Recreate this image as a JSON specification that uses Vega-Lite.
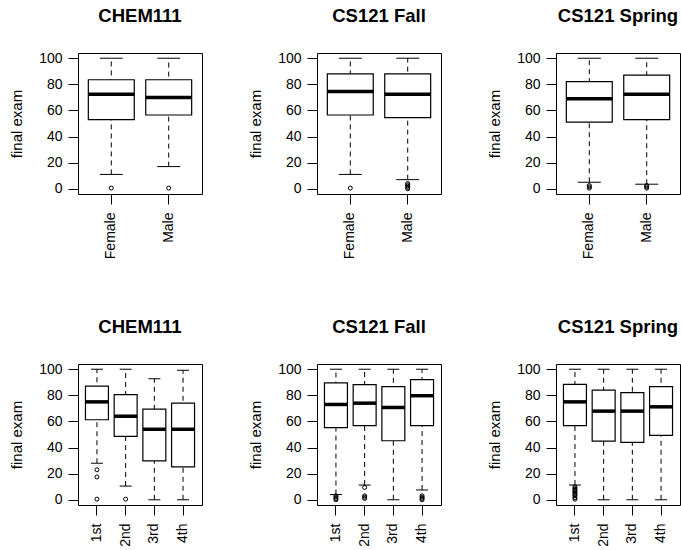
{
  "$schema": "https://vega.github.io/schema/vega-lite/v6.json",
  "background": "white",
  "padding": {"left": 9, "top": 6, "right": 2, "bottom": 2},
  "datasets": {
    "box": [
      {"course": "CHEM111", "split": "gender", "group": "Female", "lo": 11, "q1": 53, "med": 72.5, "q3": 83.5, "hi": 100},
      {"course": "CHEM111", "split": "gender", "group": "Male", "lo": 17, "q1": 56.5, "med": 70, "q3": 83.5, "hi": 100},
      {"course": "CS121 Fall", "split": "gender", "group": "Female", "lo": 11, "q1": 56.5, "med": 74.5, "q3": 88, "hi": 100},
      {"course": "CS121 Fall", "split": "gender", "group": "Male", "lo": 7, "q1": 54.5, "med": 72.5, "q3": 88, "hi": 100},
      {"course": "CS121 Spring", "split": "gender", "group": "Female", "lo": 5, "q1": 51, "med": 69, "q3": 82, "hi": 100},
      {"course": "CS121 Spring", "split": "gender", "group": "Male", "lo": 3.5, "q1": 53, "med": 72.5, "q3": 87, "hi": 100},
      {"course": "CHEM111", "split": "year", "group": "1st", "lo": 28, "q1": 61.3, "med": 75, "q3": 87, "hi": 100},
      {"course": "CHEM111", "split": "year", "group": "2nd", "lo": 10.5, "q1": 48.5, "med": 64, "q3": 80.5, "hi": 100},
      {"course": "CHEM111", "split": "year", "group": "3rd", "lo": 0, "q1": 29.8, "med": 54, "q3": 69.5, "hi": 92.7},
      {"course": "CHEM111", "split": "year", "group": "4th", "lo": 0, "q1": 25.2, "med": 54, "q3": 74, "hi": 99.2},
      {"course": "CS121 Fall", "split": "year", "group": "1st", "lo": 4, "q1": 55.3, "med": 73, "q3": 89.5, "hi": 100},
      {"course": "CS121 Fall", "split": "year", "group": "2nd", "lo": 11.3, "q1": 56.8, "med": 74, "q3": 88.2, "hi": 100},
      {"course": "CS121 Fall", "split": "year", "group": "3rd", "lo": 0, "q1": 45.2, "med": 70.7, "q3": 86.6, "hi": 100},
      {"course": "CS121 Fall", "split": "year", "group": "4th", "lo": 7.5, "q1": 56.8, "med": 79.7, "q3": 92, "hi": 100},
      {"course": "CS121 Spring", "split": "year", "group": "1st", "lo": 11.3, "q1": 56.8, "med": 75, "q3": 88.4, "hi": 100},
      {"course": "CS121 Spring", "split": "year", "group": "2nd", "lo": 0, "q1": 45, "med": 67.9, "q3": 84, "hi": 100},
      {"course": "CS121 Spring", "split": "year", "group": "3rd", "lo": 0, "q1": 44, "med": 67.9, "q3": 82, "hi": 100},
      {"course": "CS121 Spring", "split": "year", "group": "4th", "lo": 0, "q1": 49.4, "med": 71.2, "q3": 86.6, "hi": 100}
    ],
    "outliers": [
      {"course": "CHEM111", "split": "gender", "group": "Female", "out": 0.5},
      {"course": "CHEM111", "split": "gender", "group": "Male", "out": 0.5},
      {"course": "CS121 Fall", "split": "gender", "group": "Female", "out": 0.5},
      {"course": "CS121 Fall", "split": "gender", "group": "Male", "out": 0},
      {"course": "CS121 Fall", "split": "gender", "group": "Male", "out": 1},
      {"course": "CS121 Fall", "split": "gender", "group": "Male", "out": 2},
      {"course": "CS121 Fall", "split": "gender", "group": "Male", "out": 3},
      {"course": "CS121 Fall", "split": "gender", "group": "Male", "out": 4},
      {"course": "CS121 Spring", "split": "gender", "group": "Female", "out": 0.5},
      {"course": "CS121 Spring", "split": "gender", "group": "Female", "out": 1.5},
      {"course": "CS121 Spring", "split": "gender", "group": "Female", "out": 2.5},
      {"course": "CS121 Spring", "split": "gender", "group": "Male", "out": 0.5},
      {"course": "CS121 Spring", "split": "gender", "group": "Male", "out": 1.5},
      {"course": "CS121 Spring", "split": "gender", "group": "Male", "out": 2.5},
      {"course": "CHEM111", "split": "year", "group": "1st", "out": 23},
      {"course": "CHEM111", "split": "year", "group": "1st", "out": 17.5},
      {"course": "CHEM111", "split": "year", "group": "1st", "out": 0.5},
      {"course": "CHEM111", "split": "year", "group": "2nd", "out": 0.5},
      {"course": "CS121 Fall", "split": "year", "group": "1st", "out": 0},
      {"course": "CS121 Fall", "split": "year", "group": "1st", "out": 1},
      {"course": "CS121 Fall", "split": "year", "group": "1st", "out": 2},
      {"course": "CS121 Fall", "split": "year", "group": "1st", "out": 3},
      {"course": "CS121 Fall", "split": "year", "group": "2nd", "out": 9.5},
      {"course": "CS121 Fall", "split": "year", "group": "2nd", "out": 3},
      {"course": "CS121 Fall", "split": "year", "group": "2nd", "out": 2},
      {"course": "CS121 Fall", "split": "year", "group": "2nd", "out": 1},
      {"course": "CS121 Fall", "split": "year", "group": "4th", "out": 0},
      {"course": "CS121 Fall", "split": "year", "group": "4th", "out": 1},
      {"course": "CS121 Fall", "split": "year", "group": "4th", "out": 2},
      {"course": "CS121 Fall", "split": "year", "group": "4th", "out": 3},
      {"course": "CS121 Spring", "split": "year", "group": "1st", "out": 0.5},
      {"course": "CS121 Spring", "split": "year", "group": "1st", "out": 1.5},
      {"course": "CS121 Spring", "split": "year", "group": "1st", "out": 3},
      {"course": "CS121 Spring", "split": "year", "group": "1st", "out": 4},
      {"course": "CS121 Spring", "split": "year", "group": "1st", "out": 5},
      {"course": "CS121 Spring", "split": "year", "group": "1st", "out": 6},
      {"course": "CS121 Spring", "split": "year", "group": "1st", "out": 7},
      {"course": "CS121 Spring", "split": "year", "group": "1st", "out": 8},
      {"course": "CS121 Spring", "split": "year", "group": "1st", "out": 9},
      {"course": "CS121 Spring", "split": "year", "group": "1st", "out": 10}
    ]
  },
  "vconcat": [
    {
      "hconcat": [
        {
          "title": "CHEM111", "width": 124, "height": 141,
          "layer": [
            {"data": {"name": "box"}, "transform": [{"filter": "datum.course === 'CHEM111' && datum.split === 'gender'"}],
             "mark": {"type": "rule", "strokeDash": [5, 4], "color": "#000"},
             "encoding": {"x": {"field": "group", "type": "nominal", "sort": ["Female", "Male"], "scale": {"paddingInner": 0.2, "paddingOuter": 0.18}, "axis": {"title": null}}, "y": {"field": "lo", "type": "quantitative", "scale": {"domain": [-4, 104], "nice": false, "zero": false}, "axis": {"title": "final exam", "values": [0, 20, 40, 60, 80, 100]}}, "y2": {"field": "hi"}}},
            {"data": {"name": "box"}, "transform": [{"filter": "datum.course === 'CHEM111' && datum.split === 'gender'"}],
             "mark": {"type": "bar", "fill": "#fff", "stroke": "#000", "strokeWidth": 1.2},
             "encoding": {"x": {"field": "group", "type": "nominal", "sort": ["Female", "Male"]}, "y": {"field": "q1", "type": "quantitative"}, "y2": {"field": "q3"}}},
            {"data": {"name": "box"}, "transform": [{"filter": "datum.course === 'CHEM111' && datum.split === 'gender'"}],
             "mark": {"type": "tick", "color": "#000", "size": 46, "thickness": 3.5, "opacity": 1},
             "encoding": {"x": {"field": "group", "type": "nominal", "sort": ["Female", "Male"]}, "y": {"field": "med", "type": "quantitative"}}},
            {"data": {"name": "box"}, "transform": [{"filter": "datum.course === 'CHEM111' && datum.split === 'gender'"}],
             "mark": {"type": "tick", "color": "#000", "size": 23, "thickness": 1, "opacity": 1},
             "encoding": {"x": {"field": "group", "type": "nominal", "sort": ["Female", "Male"]}, "y": {"field": "lo", "type": "quantitative"}}},
            {"data": {"name": "box"}, "transform": [{"filter": "datum.course === 'CHEM111' && datum.split === 'gender'"}],
             "mark": {"type": "tick", "color": "#000", "size": 23, "thickness": 1, "opacity": 1},
             "encoding": {"x": {"field": "group", "type": "nominal", "sort": ["Female", "Male"]}, "y": {"field": "hi", "type": "quantitative"}}},
            {"data": {"name": "outliers"}, "transform": [{"filter": "datum.course === 'CHEM111' && datum.split === 'gender'"}],
             "mark": {"type": "point", "shape": "circle", "filled": false, "color": "#000", "size": 16, "strokeWidth": 1, "opacity": 1},
             "encoding": {"x": {"field": "group", "type": "nominal", "sort": ["Female", "Male"]}, "y": {"field": "out", "type": "quantitative"}}}
          ]
        },
        {
          "title": "CS121 Fall", "width": 124, "height": 141,
          "layer": [
            {"data": {"name": "box"}, "transform": [{"filter": "datum.course === 'CS121 Fall' && datum.split === 'gender'"}],
             "mark": {"type": "rule", "strokeDash": [5, 4], "color": "#000"},
             "encoding": {"x": {"field": "group", "type": "nominal", "sort": ["Female", "Male"], "scale": {"paddingInner": 0.2, "paddingOuter": 0.18}, "axis": {"title": null}}, "y": {"field": "lo", "type": "quantitative", "scale": {"domain": [-4, 104], "nice": false, "zero": false}, "axis": {"title": "final exam", "values": [0, 20, 40, 60, 80, 100]}}, "y2": {"field": "hi"}}},
            {"data": {"name": "box"}, "transform": [{"filter": "datum.course === 'CS121 Fall' && datum.split === 'gender'"}],
             "mark": {"type": "bar", "fill": "#fff", "stroke": "#000", "strokeWidth": 1.2},
             "encoding": {"x": {"field": "group", "type": "nominal", "sort": ["Female", "Male"]}, "y": {"field": "q1", "type": "quantitative"}, "y2": {"field": "q3"}}},
            {"data": {"name": "box"}, "transform": [{"filter": "datum.course === 'CS121 Fall' && datum.split === 'gender'"}],
             "mark": {"type": "tick", "color": "#000", "size": 46, "thickness": 3.5, "opacity": 1},
             "encoding": {"x": {"field": "group", "type": "nominal", "sort": ["Female", "Male"]}, "y": {"field": "med", "type": "quantitative"}}},
            {"data": {"name": "box"}, "transform": [{"filter": "datum.course === 'CS121 Fall' && datum.split === 'gender'"}],
             "mark": {"type": "tick", "color": "#000", "size": 23, "thickness": 1, "opacity": 1},
             "encoding": {"x": {"field": "group", "type": "nominal", "sort": ["Female", "Male"]}, "y": {"field": "lo", "type": "quantitative"}}},
            {"data": {"name": "box"}, "transform": [{"filter": "datum.course === 'CS121 Fall' && datum.split === 'gender'"}],
             "mark": {"type": "tick", "color": "#000", "size": 23, "thickness": 1, "opacity": 1},
             "encoding": {"x": {"field": "group", "type": "nominal", "sort": ["Female", "Male"]}, "y": {"field": "hi", "type": "quantitative"}}},
            {"data": {"name": "outliers"}, "transform": [{"filter": "datum.course === 'CS121 Fall' && datum.split === 'gender'"}],
             "mark": {"type": "point", "shape": "circle", "filled": false, "color": "#000", "size": 16, "strokeWidth": 1, "opacity": 1},
             "encoding": {"x": {"field": "group", "type": "nominal", "sort": ["Female", "Male"]}, "y": {"field": "out", "type": "quantitative"}}}
          ]
        },
        {
          "title": "CS121 Spring", "width": 124, "height": 141,
          "layer": [
            {"data": {"name": "box"}, "transform": [{"filter": "datum.course === 'CS121 Spring' && datum.split === 'gender'"}],
             "mark": {"type": "rule", "strokeDash": [5, 4], "color": "#000"},
             "encoding": {"x": {"field": "group", "type": "nominal", "sort": ["Female", "Male"], "scale": {"paddingInner": 0.2, "paddingOuter": 0.18}, "axis": {"title": null}}, "y": {"field": "lo", "type": "quantitative", "scale": {"domain": [-4, 104], "nice": false, "zero": false}, "axis": {"title": "final exam", "values": [0, 20, 40, 60, 80, 100]}}, "y2": {"field": "hi"}}},
            {"data": {"name": "box"}, "transform": [{"filter": "datum.course === 'CS121 Spring' && datum.split === 'gender'"}],
             "mark": {"type": "bar", "fill": "#fff", "stroke": "#000", "strokeWidth": 1.2},
             "encoding": {"x": {"field": "group", "type": "nominal", "sort": ["Female", "Male"]}, "y": {"field": "q1", "type": "quantitative"}, "y2": {"field": "q3"}}},
            {"data": {"name": "box"}, "transform": [{"filter": "datum.course === 'CS121 Spring' && datum.split === 'gender'"}],
             "mark": {"type": "tick", "color": "#000", "size": 46, "thickness": 3.5, "opacity": 1},
             "encoding": {"x": {"field": "group", "type": "nominal", "sort": ["Female", "Male"]}, "y": {"field": "med", "type": "quantitative"}}},
            {"data": {"name": "box"}, "transform": [{"filter": "datum.course === 'CS121 Spring' && datum.split === 'gender'"}],
             "mark": {"type": "tick", "color": "#000", "size": 23, "thickness": 1, "opacity": 1},
             "encoding": {"x": {"field": "group", "type": "nominal", "sort": ["Female", "Male"]}, "y": {"field": "lo", "type": "quantitative"}}},
            {"data": {"name": "box"}, "transform": [{"filter": "datum.course === 'CS121 Spring' && datum.split === 'gender'"}],
             "mark": {"type": "tick", "color": "#000", "size": 23, "thickness": 1, "opacity": 1},
             "encoding": {"x": {"field": "group", "type": "nominal", "sort": ["Female", "Male"]}, "y": {"field": "hi", "type": "quantitative"}}},
            {"data": {"name": "outliers"}, "transform": [{"filter": "datum.course === 'CS121 Spring' && datum.split === 'gender'"}],
             "mark": {"type": "point", "shape": "circle", "filled": false, "color": "#000", "size": 16, "strokeWidth": 1, "opacity": 1},
             "encoding": {"x": {"field": "group", "type": "nominal", "sort": ["Female", "Male"]}, "y": {"field": "out", "type": "quantitative"}}}
          ]
        }
      ]
    },
    {
      "hconcat": [
        {
          "title": "CHEM111", "width": 124, "height": 141,
          "layer": [
            {"data": {"name": "box"}, "transform": [{"filter": "datum.course === 'CHEM111' && datum.split === 'year'"}],
             "mark": {"type": "rule", "strokeDash": [5, 4], "color": "#000"},
             "encoding": {"x": {"field": "group", "type": "nominal", "sort": ["1st", "2nd", "3rd", "4th"], "scale": {"paddingInner": 0.2, "paddingOuter": 0.26}, "axis": {"title": null}}, "y": {"field": "lo", "type": "quantitative", "scale": {"domain": [-4, 104], "nice": false, "zero": false}, "axis": {"title": "final exam", "values": [0, 20, 40, 60, 80, 100]}}, "y2": {"field": "hi"}}},
            {"data": {"name": "box"}, "transform": [{"filter": "datum.course === 'CHEM111' && datum.split === 'year'"}],
             "mark": {"type": "bar", "fill": "#fff", "stroke": "#000", "strokeWidth": 1.2},
             "encoding": {"x": {"field": "group", "type": "nominal", "sort": ["1st", "2nd", "3rd", "4th"]}, "y": {"field": "q1", "type": "quantitative"}, "y2": {"field": "q3"}}},
            {"data": {"name": "box"}, "transform": [{"filter": "datum.course === 'CHEM111' && datum.split === 'year'"}],
             "mark": {"type": "tick", "color": "#000", "size": 23, "thickness": 3.5, "opacity": 1},
             "encoding": {"x": {"field": "group", "type": "nominal", "sort": ["1st", "2nd", "3rd", "4th"]}, "y": {"field": "med", "type": "quantitative"}}},
            {"data": {"name": "box"}, "transform": [{"filter": "datum.course === 'CHEM111' && datum.split === 'year'"}],
             "mark": {"type": "tick", "color": "#000", "size": 12, "thickness": 1, "opacity": 1},
             "encoding": {"x": {"field": "group", "type": "nominal", "sort": ["1st", "2nd", "3rd", "4th"]}, "y": {"field": "lo", "type": "quantitative"}}},
            {"data": {"name": "box"}, "transform": [{"filter": "datum.course === 'CHEM111' && datum.split === 'year'"}],
             "mark": {"type": "tick", "color": "#000", "size": 12, "thickness": 1, "opacity": 1},
             "encoding": {"x": {"field": "group", "type": "nominal", "sort": ["1st", "2nd", "3rd", "4th"]}, "y": {"field": "hi", "type": "quantitative"}}},
            {"data": {"name": "outliers"}, "transform": [{"filter": "datum.course === 'CHEM111' && datum.split === 'year'"}],
             "mark": {"type": "point", "shape": "circle", "filled": false, "color": "#000", "size": 16, "strokeWidth": 1, "opacity": 1},
             "encoding": {"x": {"field": "group", "type": "nominal", "sort": ["1st", "2nd", "3rd", "4th"]}, "y": {"field": "out", "type": "quantitative"}}}
          ]
        },
        {
          "title": "CS121 Fall", "width": 124, "height": 141,
          "layer": [
            {"data": {"name": "box"}, "transform": [{"filter": "datum.course === 'CS121 Fall' && datum.split === 'year'"}],
             "mark": {"type": "rule", "strokeDash": [5, 4], "color": "#000"},
             "encoding": {"x": {"field": "group", "type": "nominal", "sort": ["1st", "2nd", "3rd", "4th"], "scale": {"paddingInner": 0.2, "paddingOuter": 0.26}, "axis": {"title": null}}, "y": {"field": "lo", "type": "quantitative", "scale": {"domain": [-4, 104], "nice": false, "zero": false}, "axis": {"title": "final exam", "values": [0, 20, 40, 60, 80, 100]}}, "y2": {"field": "hi"}}},
            {"data": {"name": "box"}, "transform": [{"filter": "datum.course === 'CS121 Fall' && datum.split === 'year'"}],
             "mark": {"type": "bar", "fill": "#fff", "stroke": "#000", "strokeWidth": 1.2},
             "encoding": {"x": {"field": "group", "type": "nominal", "sort": ["1st", "2nd", "3rd", "4th"]}, "y": {"field": "q1", "type": "quantitative"}, "y2": {"field": "q3"}}},
            {"data": {"name": "box"}, "transform": [{"filter": "datum.course === 'CS121 Fall' && datum.split === 'year'"}],
             "mark": {"type": "tick", "color": "#000", "size": 23, "thickness": 3.5, "opacity": 1},
             "encoding": {"x": {"field": "group", "type": "nominal", "sort": ["1st", "2nd", "3rd", "4th"]}, "y": {"field": "med", "type": "quantitative"}}},
            {"data": {"name": "box"}, "transform": [{"filter": "datum.course === 'CS121 Fall' && datum.split === 'year'"}],
             "mark": {"type": "tick", "color": "#000", "size": 12, "thickness": 1, "opacity": 1},
             "encoding": {"x": {"field": "group", "type": "nominal", "sort": ["1st", "2nd", "3rd", "4th"]}, "y": {"field": "lo", "type": "quantitative"}}},
            {"data": {"name": "box"}, "transform": [{"filter": "datum.course === 'CS121 Fall' && datum.split === 'year'"}],
             "mark": {"type": "tick", "color": "#000", "size": 12, "thickness": 1, "opacity": 1},
             "encoding": {"x": {"field": "group", "type": "nominal", "sort": ["1st", "2nd", "3rd", "4th"]}, "y": {"field": "hi", "type": "quantitative"}}},
            {"data": {"name": "outliers"}, "transform": [{"filter": "datum.course === 'CS121 Fall' && datum.split === 'year'"}],
             "mark": {"type": "point", "shape": "circle", "filled": false, "color": "#000", "size": 16, "strokeWidth": 1, "opacity": 1},
             "encoding": {"x": {"field": "group", "type": "nominal", "sort": ["1st", "2nd", "3rd", "4th"]}, "y": {"field": "out", "type": "quantitative"}}}
          ]
        },
        {
          "title": "CS121 Spring", "width": 124, "height": 141,
          "layer": [
            {"data": {"name": "box"}, "transform": [{"filter": "datum.course === 'CS121 Spring' && datum.split === 'year'"}],
             "mark": {"type": "rule", "strokeDash": [5, 4], "color": "#000"},
             "encoding": {"x": {"field": "group", "type": "nominal", "sort": ["1st", "2nd", "3rd", "4th"], "scale": {"paddingInner": 0.2, "paddingOuter": 0.26}, "axis": {"title": null}}, "y": {"field": "lo", "type": "quantitative", "scale": {"domain": [-4, 104], "nice": false, "zero": false}, "axis": {"title": "final exam", "values": [0, 20, 40, 60, 80, 100]}}, "y2": {"field": "hi"}}},
            {"data": {"name": "box"}, "transform": [{"filter": "datum.course === 'CS121 Spring' && datum.split === 'year'"}],
             "mark": {"type": "bar", "fill": "#fff", "stroke": "#000", "strokeWidth": 1.2},
             "encoding": {"x": {"field": "group", "type": "nominal", "sort": ["1st", "2nd", "3rd", "4th"]}, "y": {"field": "q1", "type": "quantitative"}, "y2": {"field": "q3"}}},
            {"data": {"name": "box"}, "transform": [{"filter": "datum.course === 'CS121 Spring' && datum.split === 'year'"}],
             "mark": {"type": "tick", "color": "#000", "size": 23, "thickness": 3.5, "opacity": 1},
             "encoding": {"x": {"field": "group", "type": "nominal", "sort": ["1st", "2nd", "3rd", "4th"]}, "y": {"field": "med", "type": "quantitative"}}},
            {"data": {"name": "box"}, "transform": [{"filter": "datum.course === 'CS121 Spring' && datum.split === 'year'"}],
             "mark": {"type": "tick", "color": "#000", "size": 12, "thickness": 1, "opacity": 1},
             "encoding": {"x": {"field": "group", "type": "nominal", "sort": ["1st", "2nd", "3rd", "4th"]}, "y": {"field": "lo", "type": "quantitative"}}},
            {"data": {"name": "box"}, "transform": [{"filter": "datum.course === 'CS121 Spring' && datum.split === 'year'"}],
             "mark": {"type": "tick", "color": "#000", "size": 12, "thickness": 1, "opacity": 1},
             "encoding": {"x": {"field": "group", "type": "nominal", "sort": ["1st", "2nd", "3rd", "4th"]}, "y": {"field": "hi", "type": "quantitative"}}},
            {"data": {"name": "outliers"}, "transform": [{"filter": "datum.course === 'CS121 Spring' && datum.split === 'year'"}],
             "mark": {"type": "point", "shape": "circle", "filled": false, "color": "#000", "size": 16, "strokeWidth": 1, "opacity": 1},
             "encoding": {"x": {"field": "group", "type": "nominal", "sort": ["1st", "2nd", "3rd", "4th"]}, "y": {"field": "out", "type": "quantitative"}}}
          ]
        }
      ]
    }
  ],
  "spacing": 57,
  "config": {
    "concat": {"spacing": 45},
    "font": "Liberation Sans",
    "view": {"stroke": "#000", "strokeWidth": 1},
    "title": {"font": "Liberation Sans", "fontSize": 18.5, "fontWeight": "bold", "color": "#000", "anchor": "middle", "frame": "group", "offset": 26},
    "axis": {"labelFont": "Liberation Sans", "titleFont": "Liberation Sans", "labelFontSize": 14, "titleFontSize": 15, "titleFontWeight": "normal", "labelColor": "#000", "titleColor": "#000", "tickColor": "#000", "tickSize": 10, "domain": false, "grid": false, "labelOverlap": false},
    "axisY": {"labelAngle": 0, "titlePadding": 14, "labelPadding": 6, "tickCount": 6},
    "axisX": {"labelAngle": 270, "labelAlign": "right", "labelBaseline": "middle", "labelPadding": 8}
  }
}
